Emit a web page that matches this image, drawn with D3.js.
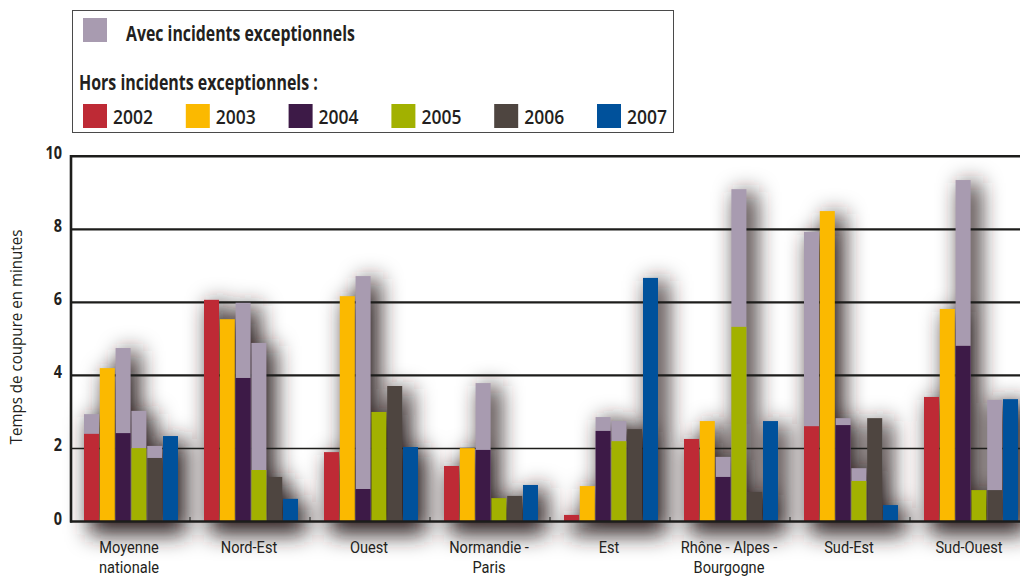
<!DOCTYPE html>
<html>
<head>
<meta charset="utf-8">
<script src="https://cdn.jsdelivr.net/npm/d3@7"></script>
<style>
  body { margin: 0; background: #fff; }
  svg { display: block; }
  text { font-family: "Open Sans", "Noto Sans", sans-serif; fill: #231f20; }
</style>
</head>
<body>
<svg id="chart" width="1020" height="577"></svg>
<script>
// Régions (catégories) et libellés sur deux lignes
const regions = ["Moyenne nationale", "Nord-Est", "Ouest", "Normandie - Paris", "Est",
                 "Rhône - Alpes - Bourgogne", "Sud-Est", "Sud-Ouest"];
const regionLines = [["Moyenne", "nationale"], ["Nord-Est"], ["Ouest"], ["Normandie -", "Paris"],
                     ["Est"], ["Rhône - Alpes -", "Bourgogne"], ["Sud-Est"], ["Sud-Ouest"]];
const years = ["2002", "2003", "2004", "2005", "2006", "2007"];
const yTicks = [0, 2, 4, 6, 8, 10];

// Temps de coupure hors incidents exceptionnels (minutes), par région
const hors2002 = [2.40, 6.07, 1.90, 1.52, 0.18, 2.26, 2.61, 3.41];
const hors2003 = [4.20, 5.54, 6.17, 2.01, 0.97, 2.75, 8.50, 5.82];
const hors2004 = [2.42, 3.93, 0.89, 1.96, 2.48, 1.22, 2.64, 4.81];
const hors2005 = [2.01, 1.41, 3.00, 0.64, 2.20, 5.33, 1.11, 0.86];
const hors2006 = [1.74, 1.22, 3.71, 0.70, 2.53, 0.81, 2.83, 0.86];
const hors2007 = [2.34, 0.62, 2.04, 1.00, 6.67, 2.75, 0.45, 3.35];

// Temps de coupure avec incidents exceptionnels (null : pas d'incident exceptionnel)
const avec2002 = [2.94, null, null, null, null, null, 7.93, null];
const avec2003 = [null, null, null, null, null, null, null, null];
const avec2004 = [4.75, 5.99, 6.72, 3.79, 2.86, 1.77, 2.83, 9.35];
const avec2005 = [3.03, 4.89, null, null, 2.75, 9.10, 1.46, null];
const avec2006 = [2.07, null, null, null, null, null, null, 3.33];
const avec2007 = [null, null, null, null, null, null, null, null];

const horsByYear = [hors2002, hors2003, hors2004, hors2005, hors2006, hors2007];
const avecByYear = [avec2002, avec2003, avec2004, avec2005, avec2006, avec2007];

const yearColors = ["#be2a35", "#fbb900", "#3d1a47", "#a2b100", "#4e4540", "#00519b"];
const avecColor = "#a89bb0";

const svg = d3.select("#chart");

// Filtre d'ombre portée floue derrière les barres
const defs = svg.append("defs");
const f = defs.append("filter").attr("id", "shadow")
  .attr("x", "-80%").attr("y", "-30%").attr("width", "260%").attr("height", "160%");
f.append("feGaussianBlur").attr("stdDeviation", 11);

const x0 = d3.scaleBand().domain(regions).range([70, 1030]);
const x1 = d3.scaleBand().domain(years).range([14, 108]).paddingInner(0.05);
const y = d3.scaleLinear().domain([0, 10]).range([521.5, 156.3]);

const bars = [];
regions.forEach((r, i) => {
  years.forEach((yr, j) => {
    bars.push({ region: r, year: yr, yi: j, hors: horsByYear[j][i], avec: avecByYear[j][i] });
  });
});

// Ombres
svg.append("g").attr("filter", "url(#shadow)").attr("opacity", 1)
  .selectAll("rect").data(bars).join("rect")
  .attr("x", d => x0(d.region) + x1(d.year) + 5)
  .attr("width", x1.bandwidth() + 4)
  .attr("y", d => y(Math.max(d.hors, d.avec || 0)) + 3)
  .attr("height", d => y(0) - y(Math.max(d.hors, d.avec || 0)) + 10)
  .attr("fill", "#2e2222");

// Lignes de grille
svg.append("g").selectAll("line").data(yTicks.filter(t => t > 0)).join("line")
  .attr("x1", 71).attr("x2", 1020)
  .attr("y1", d => y(d)).attr("y2", d => y(d))
  .attr("stroke", "#1d1d1b")
  .attr("stroke-width", d => d === 2 ? 1.6 : 2.4);

// Barres
const gBars = svg.append("g");
gBars.selectAll("rect.avec").data(bars.filter(d => d.avec != null)).join("rect")
  .attr("class", "avec")
  .attr("x", d => x0(d.region) + x1(d.year))
  .attr("width", x1.bandwidth())
  .attr("y", d => y(d.avec))
  .attr("height", d => y(0) - y(d.avec))
  .attr("fill", avecColor);
gBars.selectAll("rect.hors").data(bars).join("rect")
  .attr("class", "hors")
  .attr("x", d => x0(d.region) + x1(d.year))
  .attr("width", x1.bandwidth())
  .attr("y", d => y(d.hors))
  .attr("height", d => y(0) - y(d.hors))
  .attr("fill", d => yearColors[d.yi]);

// Axes
svg.append("line").attr("x1", 71).attr("x2", 71).attr("y1", 155).attr("y2", 522.5)
  .attr("stroke", "#1d1d1b").attr("stroke-width", 2.6);
svg.append("line").attr("x1", 70).attr("x2", 1020).attr("y1", 521.5).attr("y2", 521.5)
  .attr("stroke", "#1d1d1b").attr("stroke-width", 2.6);
svg.append("g").selectAll("line").data(regions.slice(1)).join("line")
  .attr("x1", d => x0(d)).attr("x2", d => x0(d))
  .attr("y1", 517).attr("y2", 521)
  .attr("stroke", "#1d1d1b").attr("stroke-width", 1);

// Texte condensé horizontalement
function label(parent, str, px, py, opts) {
  const t = parent.append("text")
    .attr("transform", `translate(${px},${py}) scale(${opts.k || 1},1)`)
    .attr("text-anchor", opts.anchor || "start")
    .attr("font-size", opts.size)
    .attr("font-weight", opts.weight || 400)
    .text(str);
  if (opts.family) t.style("font-family", opts.family);
  if (opts.width) {
    const w = t.node().getComputedTextLength();
    t.attr("transform", `translate(${px},${py}) scale(${opts.width / w},1)`);
  }
  return t;
}

// Étiquettes de l'axe Y
const gy = svg.append("g");
yTicks.forEach(t => label(gy, String(t), 62, y(t) + 3, { anchor: "end", size: 17, weight: 700, k: 0.85 }));

// Titre de l'axe Y
const gt = svg.append("g").attr("transform", "translate(22,337) rotate(-90)");
label(gt, "Temps de coupure en minutes", 0, 0, { anchor: "middle", size: 16, width: 215 });

// Libellés des régions
const gx = svg.append("g");
regions.forEach((r, i) => {
  const cx = x0(r) + x0.bandwidth() / 2 - 1;
  regionLines[i].forEach((ln, k) => {
    label(gx, ln, cx, 553 + k * 20, { anchor: "middle", size: 17, k: 0.86, family: "Roboto, sans-serif" });
  });
});

// Légende
const lg = svg.append("g");
lg.append("rect").attr("x", 72.5).attr("y", 10.5).attr("width", 601).attr("height", 122)
  .attr("fill", "#fff").attr("stroke", "#4a4a4a").attr("stroke-width", 1);
lg.append("rect").attr("x", 83).attr("y", 18).attr("width", 24).attr("height", 24).attr("fill", avecColor);
label(lg, "Avec incidents exceptionnels", 126, 41, { size: 21, weight: 700, width: 229 });
label(lg, "Hors incidents exceptionnels :", 79, 90, { size: 21, weight: 700, width: 239 });
years.forEach((yr, j) => {
  const lx = 83 + j * 102.8;
  lg.append("rect").attr("x", lx).attr("y", 104).attr("width", 24).attr("height", 24)
    .attr("fill", yearColors[j]);
  label(lg, yr, lx + 30, 124, { size: 19, weight: 600, width: 40 });
});
</script>
</body>
</html>
